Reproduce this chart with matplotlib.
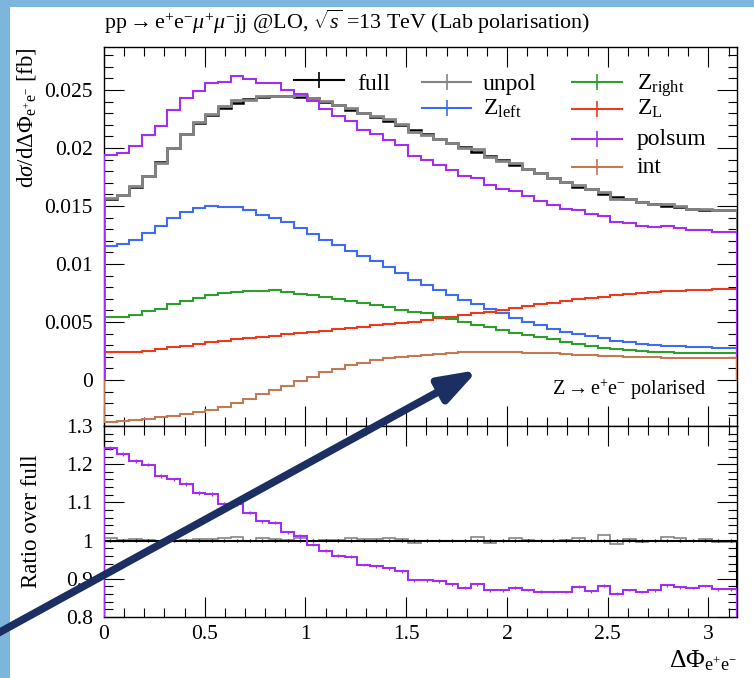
import numpy as np
import matplotlib
matplotlib.use("Agg")
import matplotlib.pyplot as plt
from matplotlib.patches import Rectangle, FancyArrowPatch
from matplotlib.ticker import MultipleLocator, FuncFormatter

plt.rcParams['font.family'] = ['Liberation Serif', 'DejaVu Serif']
plt.rcParams['mathtext.fontset'] = 'custom'
plt.rcParams['mathtext.rm'] = 'Liberation Serif'
plt.rcParams['mathtext.it'] = 'Liberation Serif:italic'
plt.rcParams['mathtext.bf'] = 'Liberation Serif:bold'

# --- data: 50 bins in dPhi(e+e-) from 0 to pi ---
n_bins = 50
edges = np.linspace(0.0, np.pi, n_bins + 1)

full = [0.01560, 0.01595, 0.01667, 0.01761, 0.01876, 0.02003, 0.02118, 0.02213, 0.02284, 0.02342,
        0.02391, 0.02419, 0.02437, 0.02445, 0.02445, 0.02440, 0.02428, 0.02399, 0.02371, 0.02328,
        0.02299, 0.02270, 0.02233, 0.02198, 0.02155, 0.02118, 0.02080, 0.02043, 0.02006, 0.01968,
        0.01931, 0.01894, 0.01856, 0.01819, 0.01782, 0.01744, 0.01707, 0.01667, 0.01647, 0.01601,
        0.01578, 0.01557, 0.01537, 0.01517, 0.01503, 0.01489, 0.01474, 0.01468, 0.01466, 0.01468]

z_left = [0.01155, 0.01172, 0.01210, 0.01270, 0.01325, 0.01394, 0.01451, 0.01480, 0.01500, 0.01494,
          0.01489, 0.01466, 0.01425, 0.01394, 0.01358, 0.01310, 0.01260, 0.01203, 0.01160, 0.01113,
          0.01068, 0.01023, 0.00975, 0.00920, 0.00862, 0.00819, 0.00772, 0.00730, 0.00688, 0.00654,
          0.00614, 0.00578, 0.00535, 0.00503, 0.00470, 0.00436, 0.00412, 0.00395, 0.00378, 0.00358,
          0.00340, 0.00324, 0.00312, 0.00303, 0.00295, 0.00289, 0.00284, 0.00280, 0.00277, 0.00275]

z_right = [0.00539, 0.00546, 0.00556, 0.00596, 0.00615, 0.00651, 0.00681, 0.00710, 0.00736, 0.00750,
           0.00761, 0.00768, 0.00768, 0.00774, 0.00762, 0.00742, 0.00733, 0.00712, 0.00698, 0.00681,
           0.00667, 0.00647, 0.00626, 0.00605, 0.00590, 0.00575, 0.00546, 0.00523, 0.00497, 0.00474,
           0.00454, 0.00431, 0.00408, 0.00388, 0.00368, 0.00351, 0.00330, 0.00310, 0.00293, 0.00279,
           0.00267, 0.00259, 0.00250, 0.00244, 0.00239, 0.00236, 0.00233, 0.00230, 0.00230, 0.00229]

z_long = [0.00238, 0.00238, 0.00240, 0.00253, 0.00264, 0.00282, 0.00293, 0.00310, 0.00325, 0.00336,
          0.00351, 0.00365, 0.00374, 0.00382, 0.00394, 0.00402, 0.00414, 0.00425, 0.00437, 0.00445,
          0.00460, 0.00471, 0.00483, 0.00492, 0.00503, 0.00517, 0.00534, 0.00546, 0.00560, 0.00575,
          0.00589, 0.00603, 0.00624, 0.00638, 0.00652, 0.00667, 0.00681, 0.00695, 0.00710, 0.00718,
          0.00730, 0.00741, 0.00750, 0.00759, 0.00765, 0.00770, 0.00776, 0.00779, 0.00782, 0.00787]

interference = [-0.00359, -0.00353, -0.00341, -0.00334, -0.00318, -0.00309, -0.00293, -0.00273, -0.00259, -0.00230,
                -0.00201, -0.00166, -0.00121, -0.00086, -0.00049, -0.00009, 0.00029, 0.00066, 0.00095, 0.00126,
                0.00149, 0.00172, 0.00190, 0.00200, 0.00207, 0.00216, 0.00224, 0.00236, 0.00241, 0.00245,
                0.00243, 0.00241, 0.00237, 0.00236, 0.00231, 0.00229, 0.00224, 0.00218, 0.00214, 0.00210,
                0.00206, 0.00201, 0.00198, 0.00195, 0.00193, 0.00190, 0.00189, 0.00188, 0.00187, 0.00187]

# ratios over full
ratio_unpol = [1.007, 1.001, 1.003, 1.001, 0.999, 1.000, 1.001, 1.005, 1.004, 1.007,
               1.010, 0.999, 1.006, 1.003, 1.001, 1.007, 1.000, 1.001, 1.001, 1.007,
               1.003, 1.004, 1.006, 1.004, 0.993, 0.998, 1.000, 1.000, 0.999, 1.010,
               0.994, 0.998, 1.007, 1.001, 1.000, 0.998, 1.001, 1.007, 1.000, 1.014,
               0.991, 1.003, 0.997, 0.998, 1.009, 1.006, 1.000, 1.005, 0.997, 0.997]

ratio_polsum = [1.243, 1.226, 1.208, 1.199, 1.169, 1.160, 1.148, 1.125, 1.122, 1.097,
                1.095, 1.073, 1.051, 1.047, 1.022, 1.012, 0.989, 0.973, 0.960, 0.958,
                0.936, 0.933, 0.928, 0.920, 0.896, 0.896, 0.893, 0.886, 0.877, 0.886,
                0.870, 0.870, 0.877, 0.871, 0.866, 0.865, 0.865, 0.879, 0.867, 0.882,
                0.861, 0.871, 0.865, 0.870, 0.883, 0.878, 0.876, 0.881, 0.872, 0.872]

# relative statistical uncertainty of the full prediction
full_relerr = [0.004, 0.004, 0.004, 0.004, 0.004, 0.004, 0.004, 0.004, 0.004, 0.004,
               0.004, 0.004, 0.004, 0.004, 0.004, 0.004, 0.004, 0.004, 0.004, 0.004,
               0.004, 0.004, 0.004, 0.004, 0.004, 0.004, 0.004, 0.004, 0.004, 0.004,
               0.004, 0.004, 0.004, 0.004, 0.004, 0.004, 0.004, 0.004, 0.004, 0.004,
               0.004, 0.004, 0.004, 0.004, 0.004, 0.004, 0.004, 0.004, 0.004, 0.004]

full = np.array(full)
unpol = full * np.array(ratio_unpol)
polsum = full * np.array(ratio_polsum)
centers = 0.5 * (edges[:-1] + edges[1:])

C_BLACK = 'black'
C_GRAY = '#858585'
C_BLUE = '#3d6cf2'
C_GREEN = '#2e9e2e'
C_RED = '#ee3a1c'
C_PURPLE = '#a12ef0'
C_BROWN = '#c27a53'

# --- figure layout (pixel boxes of the reference) ---
W, H = 754, 678
fig = plt.figure(figsize=(W / 100, H / 100), dpi=100)


def fig_box(x0, y0, x1, y1):
    return [x0 / W, 1 - y1 / H, (x1 - x0) / W, (y1 - y0) / H]


# slide background peeking in at the left and top
fig.add_artist(Rectangle((0, 0), 10 / W, 1, transform=fig.transFigure,
                         facecolor='#7db6dd', edgecolor='none', zorder=0))
fig.add_artist(Rectangle((0, 1 - 7 / H), 1, 7 / H, transform=fig.transFigure,
                         facecolor='#7db6dd', edgecolor='none', zorder=0))

ax = fig.add_axes(fig_box(104, 47, 737, 426))
rax = fig.add_axes(fig_box(104, 426, 737, 617), sharex=ax)


def fmt(v, pos):
    v = round(v, 6)
    return '0' if abs(v) < 1e-12 else f'{v:g}'


for a in (ax, rax):
    a.tick_params(which='both', direction='in', top=True, right=True,
                  colors='black', width=0.8, labelsize=15.5)
    a.tick_params(which='major', length=14.5)
    a.tick_params(which='minor', length=6.5)
    a.tick_params(axis='y', pad=8)
    a.tick_params(axis='x', pad=6)
    for s in a.spines.values():
        s.set_linewidth(1.0)
    a.xaxis.set_major_locator(MultipleLocator(0.5))
    a.xaxis.set_minor_locator(MultipleLocator(0.1))
    a.xaxis.set_major_formatter(FuncFormatter(fmt))
    a.yaxis.set_major_formatter(FuncFormatter(fmt))

# --- main panel ---
ax.stairs(full, edges, color=C_BLACK, lw=1.8, zorder=3)
ax.stairs(unpol, edges, color=C_GRAY, lw=2.0, zorder=3)
ax.stairs(z_left, edges, color=C_BLUE, lw=1.5, zorder=3)
ax.stairs(z_right, edges, color=C_GREEN, lw=1.5, zorder=3)
ax.stairs(z_long, edges, color=C_RED, lw=1.5, zorder=3)
ax.stairs(polsum, edges, color=C_PURPLE, lw=1.5, zorder=3)
ax.stairs(interference, edges, color=C_BROWN, lw=1.5, zorder=3)

ax.set_xlim(0, np.pi)
ax.set_ylim(-0.00397, 0.02871)
ax.yaxis.set_major_locator(MultipleLocator(0.005))
ax.yaxis.set_minor_locator(MultipleLocator(0.001))
ax.tick_params(labelbottom=False)
ax.set_ylabel(r'$\mathrm{d}\sigma/\mathrm{d}\Delta\Phi_{\mathrm{e}^{+}\mathrm{e}^{-}}$ [fb]',
              loc='top', fontsize=16.5)
ax.yaxis.set_label_coords(-0.104, 1.0)

ax.text(0.951, 0.0818, r'$\mathrm{Z}\rightarrow\mathrm{e}^{+}\mathrm{e}^{-}$ polarised',
        transform=ax.transAxes, ha='right', va='baseline', fontsize=14.5)

# legend, three columns as in the reference
legend_rows = [
    ('full', C_BLACK, 0.3002, 0.3791, 0.9129, 0.3997, 0.8865),
    ('unpol', C_GRAY, 0.5024, 0.5798, 0.9077, 0.5987, 0.8865),
    (r'Z$_{\mathrm{left}}$', C_BLUE, 0.5024, 0.5798, 0.8391, 0.5987, 0.8206),
    (r'Z$_{\mathrm{right}}$', C_GREEN, 0.7393, 0.8183, 0.9077, 0.8420, 0.8865),
    (r'Z$_{\mathrm{L}}$', C_RED, 0.7393, 0.8183, 0.8364, 0.8420, 0.8206),
    ('polsum', C_PURPLE, 0.7393, 0.8183, 0.7573, 0.8420, 0.7414),
    ('int', C_BROWN, 0.7393, 0.8183, 0.6834, 0.8420, 0.6675),
]
for label, color, x0, x1, yl, xt, yb in legend_rows:
    ax.plot([x0, x1], [yl, yl], transform=ax.transAxes, color=color, lw=1.5, clip_on=False)
    ax.plot([(x0 + x1) / 2], [yl], transform=ax.transAxes, color=color, marker='|',
            ms=12, mew=1.2, clip_on=False)
    ax.text(xt, yb, label, transform=ax.transAxes, fontsize=17, va='baseline')

# --- ratio panel ---
ratio_full = full / full
rax.stairs(ratio_unpol, edges, color=C_GRAY, lw=1.2, zorder=3)
rax.stairs(ratio_full, edges, color=C_BLACK, lw=1.5, zorder=4)
rax.errorbar(centers, ratio_full, yerr=np.array(full_relerr), fmt='none',
             ecolor=C_BLACK, elinewidth=0.9, zorder=4)
rax.stairs(ratio_polsum, edges, color=C_PURPLE, lw=1.5, zorder=5)
rax.errorbar(centers, ratio_polsum, yerr=np.array(ratio_polsum) * np.array(full_relerr),
             fmt='none', ecolor=C_PURPLE, elinewidth=0.9, zorder=5)

rax.set_ylim(0.8, 1.3)
rax.yaxis.set_major_locator(MultipleLocator(0.1))
rax.yaxis.set_minor_locator(MultipleLocator(0.02))
rax.set_ylabel('Ratio over full', fontsize=16.5)
rax.yaxis.set_label_coords(-0.098, 0.5)
rax.set_xlabel(r'$\Delta\Phi_{\mathrm{e}^{+}\mathrm{e}^{-}}$', loc='right', fontsize=18.5)
rax.xaxis.set_label_coords(1.0, -0.165)

# --- title ---
fig.text(104 / W, 1 - 29 / H,
         r'pp$\rightarrow$e$^{+}$e$^{-}$$\mu^{+}\mu^{-}$jj @LO, $\sqrt{s}$ =13 TeV (Lab polarisation)',
         fontsize=15.8, va='baseline')

# --- slide annotation arrow drawn over the plot ---
fig.add_artist(FancyArrowPatch((-20 / W, 1 - 643 / H), (478 / W, 1 - 370 / H),
                               transform=fig.transFigure, shrinkA=0, shrinkB=0,
                               arrowstyle='-|>,head_length=2.3,head_width=0.8',
                               mutation_scale=10, lw=5.5, color='#1b2f63', zorder=20))

fig.savefig('out.png', dpi=100)
